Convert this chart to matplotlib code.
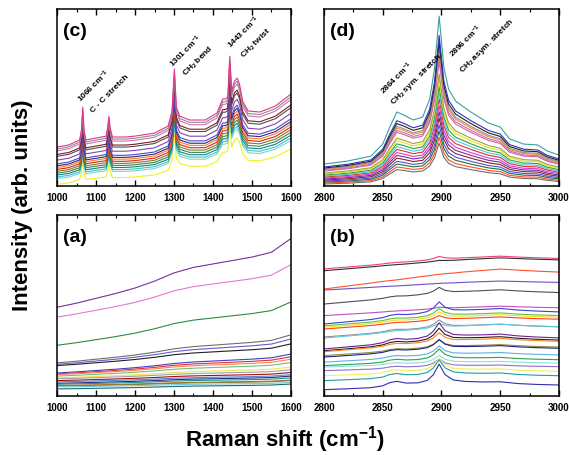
import numpy as np
import matplotlib.pyplot as plt
from matplotlib.ticker import MultipleLocator

plt.rcParams['font.family'] = ['Liberation Sans', 'DejaVu Sans']
plt.rcParams['font.weight'] = 'bold'
plt.rcParams['mathtext.fontset'] = 'custom'
plt.rcParams['mathtext.rm'] = 'Liberation Sans:bold'
plt.rcParams['mathtext.it'] = 'Liberation Sans:bold'
plt.rcParams['mathtext.bf'] = 'Liberation Sans:bold'

# ---------- panel (c): 1000-1600 cm-1, top trace ----------
c_x = [1000, 1030, 1058, 1063, 1066, 1069, 1074, 1100, 1126, 1130, 1133, 1136, 1142,
       1175, 1200, 1250, 1285, 1295, 1301, 1306, 1315, 1340, 1380, 1410, 1425, 1432,
       1438, 1443, 1448, 1455, 1462, 1468, 1476, 1490, 1520, 1560, 1600]
c_top = [22.0, 23.2, 26.0, 32.2, 44.6, 32.2, 26.0, 27.1, 28.2, 33.3, 39.5, 33.3, 27.7,
         27.7, 28.2, 29.9, 33.9, 42.4, 66.1, 44.6, 39.5, 37.3, 37.3, 41.2, 49.2, 49.2,
         50.3, 73.4, 53.7, 59.3, 61.0, 57.6, 48.0, 42.4, 41.8, 45.2, 52.0]
c_offset = [0, -0.7, -1.4, -2.7, -3.4, -4.8, -6.2, -6.9, -7.5, -8.2, -8.9, -9.6, -10.3,
            -11.0, -11.6, -13.7]
c_scale = [1.0, 0.983, 0.967, 0.933, 0.917, 0.883, 0.85, 0.833, 0.817, 0.8, 0.783,
           0.767, 0.75, 0.733, 0.717, 0.667]
c_colors = ['#e8338c', '#8c8c8c', '#d070c0', '#7f1f1f', '#505050', '#8e44ad', '#4a4ad0',
            '#2a2a80', '#ff7f1f', '#e02020', '#808020', '#2e8b57', '#1f7f7f', '#40c0d0',
            '#7fd7c0', '#f0f020']

# ---------- panel (d): 2800-3000 cm-1 ----------
d_x = [2800, 2820, 2840, 2850, 2856, 2862, 2868, 2876, 2884, 2890, 2894, 2898, 2902,
       2906, 2912, 2925, 2940, 2950, 2958, 2970, 2982, 2990, 3000]
d_top = [12.4, 14.1, 16.9, 23.7, 33.3, 41.8, 40.1, 37.3, 39.0, 49.2, 66.1, 96.0, 67.2,
         54.8, 48.0, 41.8, 35.6, 33.3, 26.6, 23.7, 23.2, 19.8, 17.5]
d_offset = [0, -0.3, -0.45, -0.55, -0.65, -0.7, -0.8, -1.0, -1.15, -1.25, -1.4, -1.5,
            -1.6, -1.7, -1.85, -1.95, -2.05, -2.2, -2.3]
d_scale = [1.0, 0.89, 0.855, 0.82, 0.80, 0.77, 0.745, 0.67, 0.64, 0.60, 0.565, 0.53,
           0.49, 0.455, 0.42, 0.38, 0.345, 0.31, 0.276]
d_colors = ['#3aa0a0', '#3030c0', '#202020', '#909090', '#ff8c1a', '#b070d0', '#e060a0',
            '#a0a040', '#e0e020', '#30a040', '#50c8e0', '#e03030', '#d040d0', '#7030a0',
            '#902020', '#5050e0', '#207040', '#ff5020', '#707070']

# ---------- panel (a): 1000-1600 cm-1, smooth backgrounds ----------
a_x = [1000, 1050, 1100, 1150, 1200, 1250, 1300, 1350, 1400, 1450, 1500, 1550, 1600]
a_shape = [0, 0.06, 0.13, 0.2, 0.28, 0.38, 0.5, 0.58, 0.63, 0.68, 0.73, 0.8, 1.0]
a_offset = [49, 43.6, 28, 18.3, 17.5, 16.8, 12.7, 12.2, 11.8, 11.0, 10.0, 9.5, 8.5,
            7.8, 7.0, 6.5, 5.8, 5.5, 5.0, 3.9]
a_rise = [38, 29, 24, 15.5, 14, 12, 10.5, 9.5, 8.5, 7.5, 6, 5, 4.5, 4, 4, 3.5, 3, 3,
          2.5, 2.7]
a_colors = ['#7b2d9b', '#e07ad0', '#2e8b3e', '#707070', '#6a5acd', '#202020', '#4040c0',
            '#e03030', '#ff8060', '#70c070', '#f0e060', '#a0a0a0', '#a01010', '#6080d0',
            '#203080', '#209090', '#c07020', '#808030', '#80c0e0', '#107070']

# ---------- panel (b): 2800-3000 cm-1, background + CH peak ----------
b_x = [2800, 2820, 2840, 2850, 2856, 2862, 2870, 2880, 2888, 2893, 2898, 2903, 2910,
       2920, 2935, 2950, 2965, 2980, 3000]
b_bg = [0, 0.15, 0.3, 0.38, 0.42, 0.46, 0.52, 0.6, 0.66, 0.7, 0.74, 0.77, 0.8, 0.86,
        0.93, 1.0, 0.95, 0.9, 0.85]
b_pk = [0, 0.02, 0.05, 0.12, 0.25, 0.3, 0.22, 0.22, 0.32, 0.55, 1.0, 0.55, 0.32, 0.25,
        0.22, 0.22, 0.15, 0.12, 0.1]
b_offset = [70.2, 69.2, 59.1, 58.5, 50.8, 44.4, 39.8, 38.8, 38.0, 37.0, 32.6, 32.0,
            26.0, 25.0, 24.5, 22.3, 21.5, 18.7, 16.8, 16.0, 14.0, 11.2, 8.5, 3.5]
b_bgamp = [6.6, 7, 11, 5, 7, 5, 7, 6, 6, 6, 6, 7, 6, 6, 6, 5, 5, 4, 3, 2, 2, 2, 2, 1.5]
b_pkamp = [2, 0.5, 0, 0, 4, 1, 7, 5, 4, 3, 5, 3, 10, 8, 6, 5, 6, 6, 7, 5, 5, 8, 10, 13]
b_colors = ['#f04080', '#303030', '#ff5030', '#7050c0', '#505050', '#c050c0', '#4040d0',
            '#60c040', '#f0e020', '#ff4020', '#909090', '#60c8e0', '#702090', '#202020',
            '#ff8020', '#909040', '#202080', '#60b0e0', '#30a050', '#90e0e0', '#9070d0',
            '#f0f060', '#20a0a0', '#3030b0']

fig = plt.figure(figsize=(5.69, 4.56), dpi=100)
ax_c = fig.add_axes([0.1002, 0.5899, 0.4112, 0.388])
ax_d = fig.add_axes([0.5694, 0.5899, 0.4130, 0.388])
ax_a = fig.add_axes([0.1002, 0.1294, 0.4112, 0.397])
ax_b = fig.add_axes([0.5694, 0.1294, 0.4130, 0.397])

c_top_arr = np.array(c_top)
for off, sc, col in zip(c_offset[::-1], c_scale[::-1], c_colors[::-1]):
    ax_c.plot(c_x, off + sc * c_top_arr, color=col, lw=0.8)

d_top_arr = np.array(d_top)
for off, sc, col in zip(d_offset[::-1], d_scale[::-1], d_colors[::-1]):
    ax_d.plot(d_x, off + sc * d_top_arr, color=col, lw=0.8)

a_shape_arr = np.array(a_shape)
for off, r, col in zip(a_offset, a_rise, a_colors):
    ax_a.plot(a_x, off + r * a_shape_arr, color=col, lw=0.8)

b_bg_arr, b_pk_arr = np.array(b_bg), np.array(b_pk)
for off, g, p, col in zip(b_offset, b_bgamp, b_pkamp, b_colors):
    ax_b.plot(b_x, off + g * b_bg_arr + p * b_pk_arr, color=col, lw=0.8)

for ax, lab, lo, hi, major in [(ax_c, '(c)', 1000, 1600, 100), (ax_d, '(d)', 2800, 3000, 50),
                               (ax_a, '(a)', 1000, 1600, 100), (ax_b, '(b)', 2800, 3000, 50)]:
    ax.set_xlim(lo, hi)
    ax.set_ylim(0, 100)
    ax.set_yticks([])
    ax.xaxis.set_major_locator(MultipleLocator(major))
    ax.xaxis.set_minor_locator(MultipleLocator(major / 2))
    ax.tick_params(axis='x', which='both', direction='in', top=True, labelsize=7, pad=4)
    ax.tick_params(axis='x', which='major', length=4, width=1)
    ax.tick_params(axis='x', which='minor', length=2.5, width=0.8)
    for lbl in ax.get_xticklabels():
        lbl.set_fontweight('bold')
    for sp in ax.spines.values():
        sp.set_linewidth(1.1)
    ax.text(0.026, 0.88, lab, transform=ax.transAxes, fontsize=14, fontweight='bold',
            va='center', ha='left')

ann = dict(fontsize=6, fontweight='bold', rotation=45, rotation_mode='anchor',
           ha='left', va='baseline')
ax_c.text(1063, 47.5, '1066 cm$^{-1}$', **ann)
ax_c.text(1092, 41.8, 'C - C stretch', **ann)
ax_c.text(1298, 67.2, '1301 cm$^{-1}$', **ann)
ax_c.text(1330, 62.1, 'CH$_2$ bend', **ann)
ax_c.text(1447, 77.8, '1443 cm$^{-1}$', **ann)
ax_c.text(1479, 72.7, 'CH$_2$ twist', **ann)
ax_d.text(2851, 52, '2864 cm$^{-1}$', **ann)
ax_d.text(2859, 46.3, 'CH$_2$ sym. stretch', **ann)
ax_d.text(2910, 72.7, '2896 cm$^{-1}$', **ann)
ax_d.text(2918, 64.2, 'CH$_2$ asym. stretch', **ann)

fig.text(0.039, 1 - 205 / 456, 'Intensity (arb. units)', rotation=90, fontsize=16,
         fontweight='bold', ha='center', va='center')
fig.text(0.5, 1 - 440 / 456, 'Raman shift (cm$^{-1}$)', fontsize=16, fontweight='bold',
         ha='center', va='center')

fig.savefig('out.png', dpi=100)
